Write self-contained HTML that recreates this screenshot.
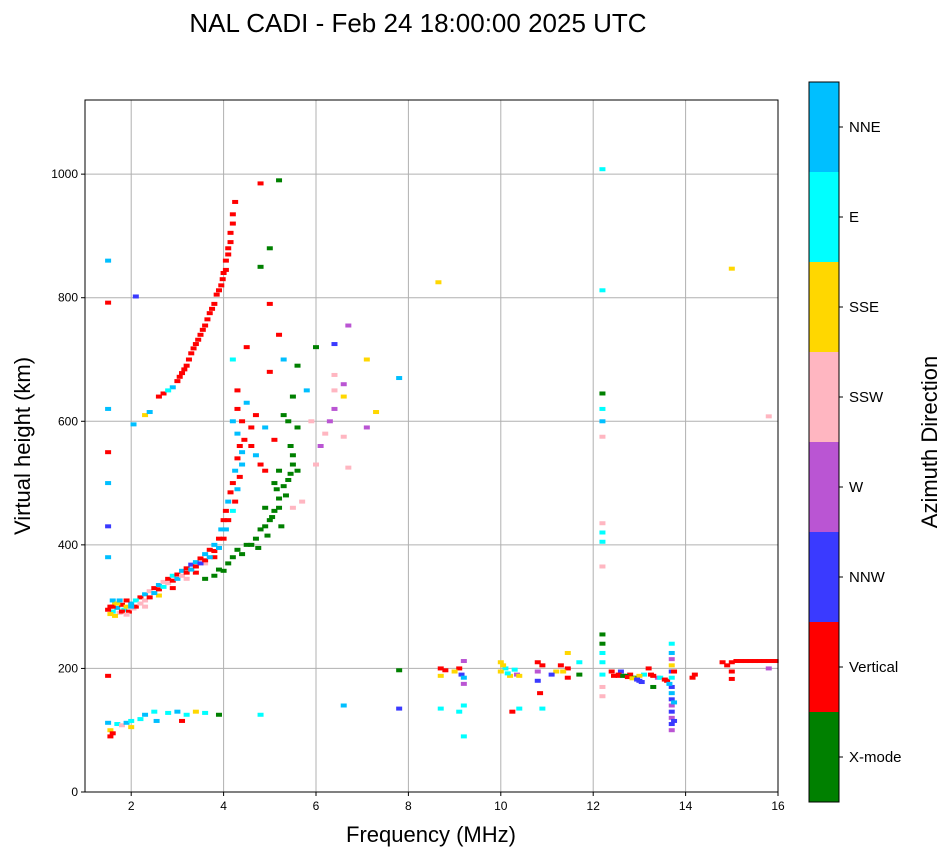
<!DOCTYPE html>
<html><head><meta charset="utf-8"><style>
body{margin:0;background:#fff;}
svg{display:block;font-family:"Liberation Sans","DejaVu Sans",sans-serif;}
</style></head><body>
<svg id="chart" width="951" height="856" viewBox="0 0 951 856" xmlns="http://www.w3.org/2000/svg">
<text x="418" y="32" font-size="26" text-anchor="middle">NAL CADI - Feb 24 18:00:00 2025 UTC</text>
<g id="grid"></g>
<g id="marks"></g>
<rect x="85" y="100" width="693" height="692" fill="none" stroke="#000" stroke-width="1"/>
<g id="axes"></g>
<text x="431" y="842" font-size="22" text-anchor="middle">Frequency (MHz)</text>
<text x="30" y="446" font-size="22" text-anchor="middle" transform="rotate(-90 30 446)">Virtual height (km)</text>
<g id="cbar"></g>
<text x="937" y="442" font-size="22" text-anchor="middle" transform="rotate(-90 937 442)">Azimuth Direction</text>
</svg>
<script>
const directions=["X-mode","Vertical","NNW","W","SSW","SSE","E","NNE"];
const dirColors=["#008000","#ff0000","#3a3aff","#ba55d3","#ffb6c1","#ffd700","#00ffff","#00bfff"];
const xTicks=[2,4,6,8,10,12,14,16];
const yTicks=[0,200,400,600,800,1000];
const freqs=[1.55,1.6,1.65,1.55,1.7,1.75,1.8,1.85,1.9,1.95,2.0,2.05,1.6,1.9,2.1,
2.2,2.3,2.4,2.5,2.6,2.7,2.8,2.9,3.0,3.1,3.2,3.3,3.4,3.5,3.6,3.7,3.8,3.9,3.95,4.0,4.05,4.1,4.15,4.2,4.25,4.3,4.35,4.3,4.4,2.3,2.6,2.9,3.2,3.4,3.6,3.8,
3.6,3.9,4.0,4.2,4.3,4.5,4.7,4.8,5.0,5.1,5.2,5.3,5.45,5.5,5.45,5.1,4.9,5.6,5.3,5.5,
2.3,2.4,2.6,2.9,3.0,3.1,3.2,3.3,3.4,3.5,3.6,3.65,3.7,3.8,3.85,3.95,4.0,4.05,4.1,4.15,4.2,4.25,4.8,5.0,5.0,5.2,4.8,
4.3,4.5,4.7,4.9,5.1,4.6,4.4,4.8,5.2,5.4,5.0,5.3,5.6,4.2,4.5,5.2,5.8,6.0,5.9,6.1,6.2,6.4,6.4,6.6,6.6,6.7,6.4,6.0,5.7,5.5,6.4,7.1,7.1,7.3,6.7,6.3,6.6,
1.5,1.5,1.5,1.5,1.5,1.5,1.5,2.1,2.05,1.5,
1.5,1.55,1.6,1.7,1.8,1.9,2.0,2.2,2.3,2.5,2.55,2.8,3.0,3.1,3.2,3.4,3.6,3.9,4.8,2.0,1.55,
8.7,8.7,8.7,9.1,9.15,9.2,9.2,9.1,9.2,9.2,9.2,10.0,10.1,10.0,10.2,10.3,10.25,10.4,10.35,10.4,10.8,10.8,10.8,10.85,10.9,11.2,11.1,11.3,11.45,11.45,11.45,11.7,11.7,
12.2,12.2,12.2,12.2,12.2,12.2,12.2,12.4,12.6,12.8,12.9,13.0,13.2,13.1,13.4,13.3,13.6,
13.7,13.7,13.7,13.7,13.7,13.7,13.7,13.7,13.7,13.7,13.7,13.7,13.7,13.7,14.2,15.0,15.2,15.5,15.8,15.95,15.0,15.8,15.0,
8.65,15.0,12.2,12.2,12.2,12.2,12.2,12.2,12.2,12.2,12.2,12.2,15.8,7.8,7.8,7.8,6.6,12.55,12.7,13.0,13.3,
1.5,1.6,1.7,1.8,1.9,2.0,2.1,1.65,1.75,2.2,2.3,2.4,2.5,2.6,2.7,2.8,2.9,3.0,3.1,3.2,3.3,3.4,3.5,3.6,3.7,3.8,3.9,4.0,4.05,4.1,4.2,4.25,4.3,4.35,4.4,4.45,4.3,4.2,4.6,4.7,4.9,
3.8,4.1,4.4,4.6,4.75,4.9,5.05,5.2,5.35,5.4,5.5,4.95,5.25,5.6,5.15,
2.7,2.8,3.05,3.15,3.25,3.35,3.45,3.55,3.75,3.9,3.98,4.05,4.1,4.15,4.2,
8.8,9.0,10.05,10.15,10.9,11.35,12.45,12.55,12.65,12.75,12.85,12.95,13.05,13.25,13.45,13.55,13.75,14.8,14.9,15.1,15.3,15.4,15.6,15.7,15.9,14.15,13.65,13.75,13.75];
const heights=[300,292,305,288,298,290,303,295,300,292,305,297,310,310,300,
315,320,325,330,335,340,345,350,352,358,362,368,372,378,385,392,400,410,425,440,455,470,485,500,520,540,560,580,600,310,318,330,345,355,370,380,
345,360,358,380,392,400,410,425,440,455,475,495,515,545,560,500,460,590,610,640,
610,615,640,655,665,678,690,710,725,740,755,765,775,790,805,820,840,860,880,905,935,955,985,790,880,990,850,
650,630,610,590,570,560,550,530,520,600,680,700,690,700,720,740,650,720,600,560,580,620,650,640,660,755,725,530,470,460,675,700,590,615,525,600,575,
860,620,550,500,430,380,188,802,595,792,
112,100,95,110,108,112,105,118,125,130,115,128,130,115,125,130,128,125,125,115,90,
200,188,135,200,190,185,175,130,140,90,212,210,200,195,188,198,130,135,190,188,210,195,180,160,135,195,190,205,200,185,225,210,190,
255,240,225,210,190,170,155,195,195,190,185,180,200,190,185,170,180,
240,225,215,205,195,185,170,160,150,140,130,120,110,100,190,210,212,212,212,212,195,200,183,
825,847,1008,812,645,620,600,575,435,420,405,365,608,670,197,135,140,188,188,188,188,
295,300,305,292,287,300,310,285,310,305,300,315,322,328,332,338,342,345,350,355,360,365,370,375,380,390,395,410,425,440,455,470,490,510,530,570,620,600,590,545,520,
350,370,385,400,395,430,445,460,480,505,530,415,430,520,490,
645,650,672,684,700,718,732,748,782,812,830,845,870,890,920,
197,195,205,192,205,195,188,190,188,186,184,182,178,190,185,182,195,210,205,212,212,212,212,212,212,185,175,145,115];
const dirIdx=[1,6,5,5,7,4,1,6,5,1,7,4,7,1,1,
1,7,4,1,7,4,1,6,1,7,1,2,7,1,7,1,7,1,7,1,1,7,1,1,7,1,1,7,1,4,5,1,4,1,4,1,
0,0,0,0,0,0,0,0,0,0,0,0,0,0,0,0,0,0,0,0,
5,7,1,7,1,1,1,1,1,1,1,1,1,1,1,1,1,1,1,1,1,1,1,1,0,0,0,
1,7,1,7,1,1,7,1,0,0,1,7,0,6,1,1,7,0,4,3,4,3,4,5,3,3,2,4,4,4,4,5,3,5,4,3,4,
7,7,1,7,2,7,1,2,7,1,
7,5,1,6,4,7,5,6,7,6,7,6,7,1,6,5,6,0,6,6,1,
1,5,6,1,2,7,3,6,6,6,3,5,6,5,5,6,1,6,3,5,1,3,2,1,6,5,2,1,1,1,5,6,0,
0,0,6,6,6,4,4,1,2,1,0,2,1,6,3,0,1,
6,7,3,5,2,6,2,7,2,3,2,3,2,3,1,1,1,1,1,1,1,3,1,
5,5,6,6,0,6,7,4,4,6,6,4,4,7,0,2,7,1,0,5,1,
1,1,5,1,4,7,6,5,7,4,4,1,7,1,6,4,1,7,4,1,7,1,2,1,7,1,7,1,7,1,6,1,7,1,7,1,1,7,1,7,1,
0,0,0,0,0,0,0,0,0,0,0,0,0,0,0,
1,6,1,1,1,1,1,1,1,1,1,1,1,1,1,
1,5,5,6,1,5,1,1,0,1,5,2,2,1,6,1,1,1,1,1,1,1,1,1,1,1,7,7,2];

const NS="http://www.w3.org/2000/svg";
const X0=85,X1=778,Y0=792,Y1=100,FMIN=1,FMAX=16,HMAX=1120;
function xs(f){return X0+(f-FMIN)/(FMAX-FMIN)*(X1-X0);}
function ys(h){return Y0-h/HMAX*(Y0-Y1);}
function mk(tag,attrs,parent){const e=document.createElementNS(NS,tag);for(const k in attrs)e.setAttribute(k,attrs[k]);parent.appendChild(e);return e;}
const grid=document.getElementById('grid'),axes=document.getElementById('axes'),marks=document.getElementById('marks'),cbar=document.getElementById('cbar');
xTicks.forEach(t=>{
  const x=xs(t);
  const g=mk('line',{x1:x,x2:x,y1:Y1,y2:Y0,stroke:'#b0b0b0','stroke-width':1},grid);
  
  
  const tk=mk('line',{x1:x,x2:x,y1:Y0,y2:Y0+4,stroke:'#000'},axes);
  
  
  const l=mk('text',{x:x,y:Y0+18,'font-size':12,'text-anchor':'middle'},axes);
  l.textContent=t;
  
  
});
yTicks.forEach(t=>{
  const y=ys(t);
  const g=mk('line',{x1:X0,x2:X1,y1:y,y2:y,stroke:'#b0b0b0','stroke-width':1},grid);
  
  
  const tk=mk('line',{x1:X0-4,x2:X0,y1:y,y2:y,stroke:'#000'},axes);
  
  
  const l=mk('text',{x:X0-7,y:y+4,'font-size':12,'text-anchor':'end'},axes);
  l.textContent=t;
  
  
});
for(let i=0;i<freqs.length;i++){
  const r=mk('rect',{x:xs(freqs[i])-3,y:ys(heights[i])-2,width:6,height:4,fill:dirColors[dirIdx[i]]},marks);
  
  
}
const CB_X=809,CB_W=30,CB_TOP=82,CB_BOT=802,n=directions.length,bh=(CB_BOT-CB_TOP)/n;
directions.forEach((d,i)=>{
  const y=CB_BOT-(i+1)*bh;
  const r=mk('rect',{x:CB_X,y:y,width:CB_W,height:bh,fill:dirColors[i]},cbar);
  
  
  const tk=mk('line',{x1:CB_X+CB_W,x2:CB_X+CB_W+4,y1:y+bh/2,y2:y+bh/2,stroke:'#000'},cbar);
  
  
  const l=mk('text',{x:CB_X+CB_W+10,y:y+bh/2+5,'font-size':15},cbar);
  l.textContent=d;
  
  
});
const fr=mk('rect',{x:CB_X,y:CB_TOP,width:CB_W,height:CB_BOT-CB_TOP,fill:'none',stroke:'#000'},cbar);


</script>
</body></html>
